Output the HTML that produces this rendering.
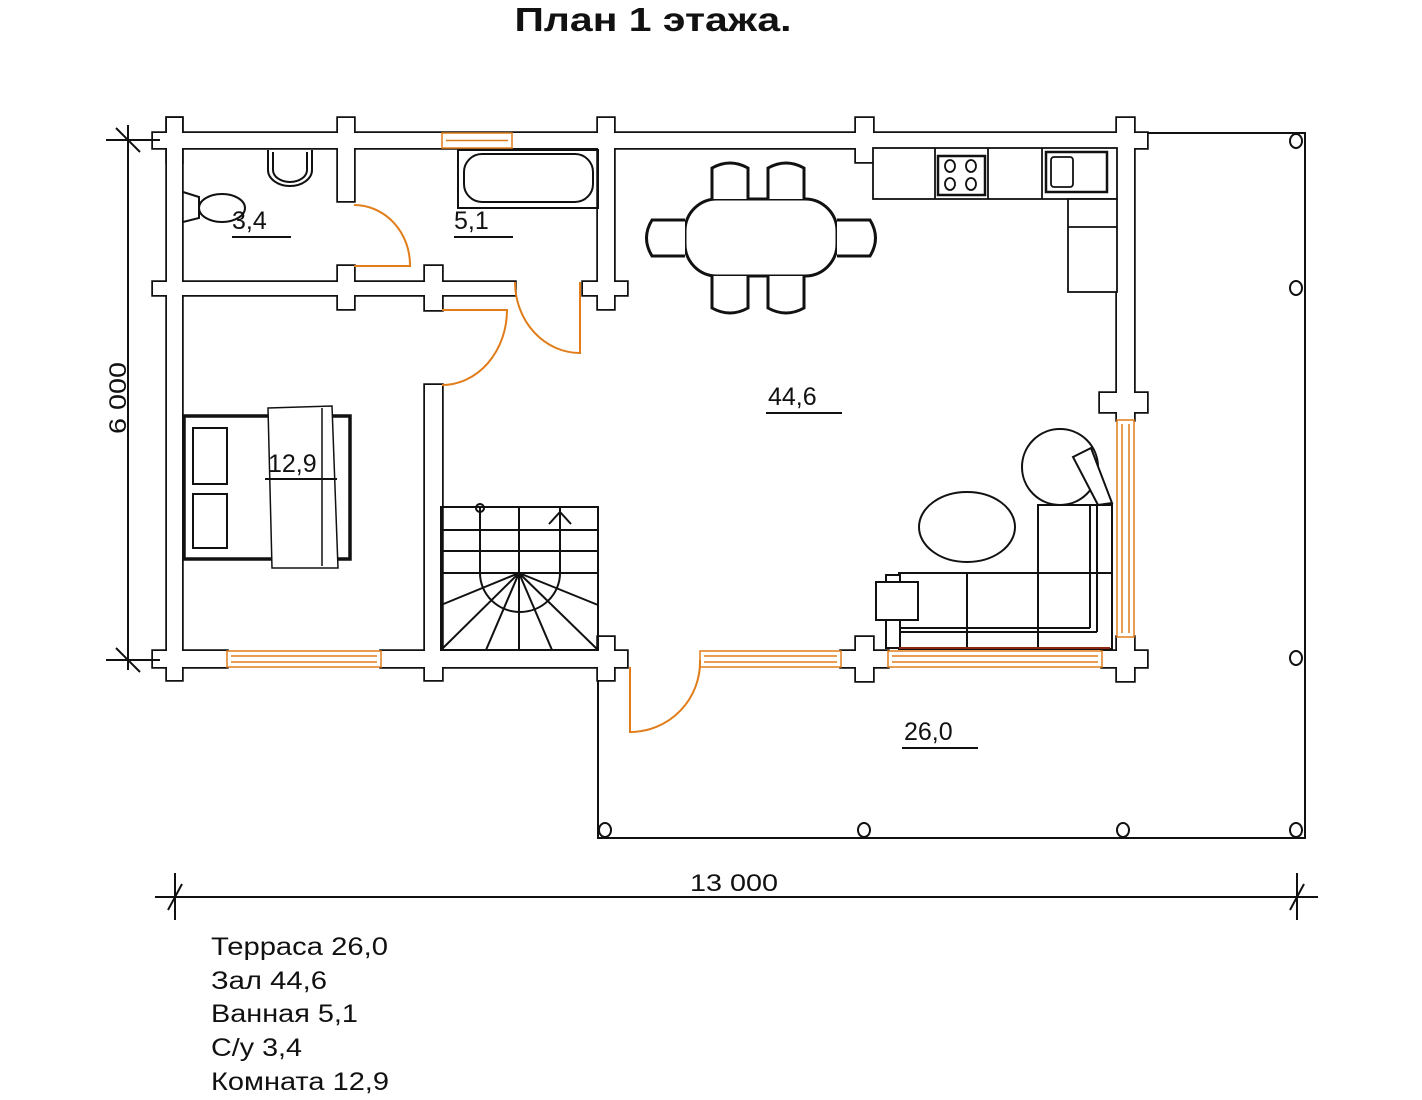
<!DOCTYPE html>
<html><head><meta charset="utf-8"><style>
html,body{margin:0;padding:0;background:#fff;}
svg{display:block;}
text{font-family:"Liberation Sans",sans-serif;fill:#111;}
</style></head><body>
<svg width="1422" height="1100" viewBox="0 0 1422 1100" xmlns="http://www.w3.org/2000/svg">
<defs>
<g id="walls">
  <rect x="153" y="133" width="994" height="15"/>
  <rect x="167" y="118" width="15" height="44"/>
  <rect x="338" y="118" width="16" height="83"/>
  <rect x="598" y="118" width="16" height="191"/>
  <rect x="856" y="118" width="17" height="44"/>
  <rect x="1117" y="118" width="17" height="302"/>
  <rect x="167" y="118" width="15" height="562"/>
  <rect x="153" y="282" width="362" height="13"/>
  <rect x="338" y="266" width="16" height="43"/>
  <rect x="425" y="266" width="17" height="44"/>
  <rect x="583" y="282" width="44" height="13"/>
  <rect x="425" y="385" width="17" height="295"/>
  <rect x="1100" y="393" width="47" height="19"/>
  <rect x="153" y="651" width="74" height="16"/>
  <rect x="381" y="651" width="246" height="16"/>
  <rect x="598" y="637" width="16" height="43"/>
  <rect x="841" y="651" width="47" height="16"/>
  <rect x="856" y="637" width="17" height="44"/>
  <rect x="1102" y="651" width="45" height="16"/>
  <rect x="1117" y="637" width="17" height="44"/>
</g>
</defs>
<text x="653" y="31" text-anchor="middle" font-size="33" font-weight="bold" textLength="277" lengthAdjust="spacingAndGlyphs">План 1 этажа.</text>

<polyline points="1147,133 1305,133 1305,838 598,838 598,667" fill="none" stroke="#111" stroke-width="2"/>
<g fill="#fff" stroke="#111" stroke-width="2">
<ellipse cx="1296" cy="141" rx="6" ry="7"/><ellipse cx="1296" cy="288" rx="6" ry="7"/>
<ellipse cx="1296" cy="658" rx="6" ry="7"/><ellipse cx="1296" cy="830" rx="6" ry="7"/>
<ellipse cx="1123" cy="830" rx="6" ry="7"/><ellipse cx="864" cy="830" rx="6" ry="7"/>
<ellipse cx="605" cy="830" rx="6" ry="7"/>
</g>

<use href="#walls" fill="none" stroke="#111" stroke-width="3.5"/>
<use href="#walls" fill="#fff" stroke="none"/>

<g fill="#fff" stroke="#e07d1a" stroke-width="1.5">
<rect x="442" y="133" width="70" height="15"/><line x1="446" y1="140.5" x2="508" y2="140.5"/>
<rect x="227" y="651" width="154" height="16"/><line x1="231" y1="656" x2="377" y2="656"/><line x1="231" y1="662" x2="377" y2="662"/>
<rect x="700" y="651" width="141" height="16"/><line x1="704" y1="656" x2="837" y2="656"/><line x1="704" y1="662" x2="837" y2="662"/>
<rect x="888" y="651" width="214" height="16"/><line x1="892" y1="656" x2="1098" y2="656"/><line x1="892" y1="662" x2="1098" y2="662"/>
<rect x="1117" y="420" width="17" height="217"/><line x1="1122" y1="424" x2="1122" y2="633"/><line x1="1129" y1="424" x2="1129" y2="633"/>
</g>

<g fill="none" stroke="#e07d1a" stroke-width="2">
<path d="M354,266 L410,266 A56,60 0 0 0 354,205"/>
<path d="M580,282 L580,353 A65,71 0 0 1 515,282"/>
<path d="M442,310 L507,310 A65,75 0 0 1 442,385"/>
<path d="M630,667 L630,732 A70,70 0 0 0 700,660"/>
</g>

<g stroke="#111" stroke-width="2" fill="none">
<line x1="128" y1="125" x2="128" y2="670"/>
<line x1="106" y1="140" x2="160" y2="140"/>
<line x1="106" y1="660" x2="160" y2="660"/>
<line x1="116" y1="128" x2="140" y2="152"/>
<line x1="116" y1="648" x2="140" y2="672"/>
<line x1="155" y1="897" x2="1318" y2="897"/>
<line x1="175" y1="873" x2="175" y2="920"/>
<line x1="1297" y1="873" x2="1297" y2="920"/>
<line x1="168" y1="910" x2="182" y2="884"/>
<line x1="1290" y1="910" x2="1304" y2="884"/>
</g>
<text x="0" y="0" font-size="24" text-anchor="middle" transform="translate(126,398) rotate(-90)" textLength="72" lengthAdjust="spacingAndGlyphs">6 000</text>
<text x="690" y="891" font-size="24" textLength="88" lengthAdjust="spacingAndGlyphs">13 000</text>

<g fill="none" stroke="#111" stroke-width="2">
<path d="M268,150 L268,170 A22,16 0 0 0 312,170 L312,150"/>
<path d="M273,152 L273,170 A17,12 0 0 0 307,170 L307,152"/>
<path d="M183,192 L199,197 L199,218 L183,222"/>
<ellipse cx="222" cy="208" rx="23" ry="14"/>
<rect x="458" y="150" width="140" height="58"/>
<rect x="464" y="154" width="129" height="48" rx="18"/>
</g>

<g fill="#fff" stroke="#111" stroke-width="3">
<rect x="685" y="199" width="152" height="77" rx="32"/>
<path d="M712,199 L712,168 Q730,158 748,168 L748,199"/>
<path d="M768,199 L768,168 Q786,158 804,168 L804,199"/>
<path d="M712,276 L712,308 Q730,318 748,308 L748,276"/>
<path d="M768,276 L768,308 Q786,318 804,308 L804,276"/>
<path d="M685,220 L652,220 Q641,238 652,256 L685,256"/>
<path d="M837,220 L870,220 Q881,238 870,256 L837,256"/>
</g>

<g fill="#fff" stroke="#111" stroke-width="1.8">
<rect x="873" y="148" width="244" height="51"/>
<line x1="935" y1="148" x2="935" y2="199"/><line x1="988" y1="148" x2="988" y2="199"/><line x1="1042" y1="148" x2="1042" y2="199"/>
<rect x="938" y="156" width="47" height="39" stroke-width="2.5"/>
<ellipse cx="950" cy="166" rx="5" ry="6"/><ellipse cx="971" cy="166" rx="5" ry="6"/>
<ellipse cx="950" cy="184" rx="5" ry="6"/><ellipse cx="971" cy="184" rx="5" ry="6"/>
<rect x="1046" y="152" width="61" height="40" stroke-width="2.5"/>
<rect x="1051" y="157" width="22" height="30" rx="3"/>
<rect x="1068" y="199" width="49" height="93"/>
<line x1="1068" y1="227" x2="1117" y2="227"/>
</g>

<g fill="#fff" stroke="#111">
<rect x="184" y="416" width="166" height="143" stroke-width="3.5"/>
<rect x="193" y="428" width="34" height="56" stroke-width="2"/>
<rect x="193" y="494" width="34" height="54" stroke-width="2"/>
<path d="M268,408 L332,406 L338,568 L272,568 Z" stroke-width="1.5"/>
<line x1="322" y1="408" x2="322" y2="566" stroke-width="1.5"/>
</g>

<g fill="none" stroke="#111" stroke-width="2">
<rect x="441" y="507" width="157" height="143"/>
<line x1="441" y1="530" x2="598" y2="530"/><line x1="441" y1="551" x2="598" y2="551"/><line x1="441" y1="573" x2="598" y2="573"/>
<line x1="480" y1="507" x2="480" y2="573"/><line x1="519" y1="507" x2="519" y2="650"/><line x1="560" y1="507" x2="560" y2="573"/>
<path d="M480,573 A39,38 0 0 0 560,573"/>
<line x1="519" y1="573" x2="441" y2="605"/><line x1="519" y1="573" x2="441" y2="650"/>
<line x1="519" y1="573" x2="486" y2="650"/><line x1="519" y1="573" x2="552" y2="650"/>
<line x1="519" y1="573" x2="598" y2="650"/><line x1="519" y1="573" x2="598" y2="605"/>
<path d="M549,524 L560,512 L571,524"/>
<circle cx="480" cy="508" r="4"/>
</g>

<g fill="none" stroke="#111" stroke-width="2">
<circle cx="1060" cy="467" r="38" fill="#fff"/>
<ellipse cx="967" cy="527" rx="48" ry="35"/>
<path d="M1073,457 L1091,448 L1112,503 L1098,505 Z" fill="#fff"/>
<rect x="1038" y="505" width="74" height="68" fill="#fff"/>
<rect x="899" y="573" width="213" height="76" fill="#fff"/>
<line x1="1038" y1="505" x2="1038" y2="649"/>
<line x1="967" y1="573" x2="967" y2="649"/>
<line x1="1090" y1="505" x2="1090" y2="628"/><line x1="1097" y1="505" x2="1097" y2="632"/>
<line x1="899" y1="628" x2="1090" y2="628"/><line x1="899" y1="632" x2="1097" y2="632"/>
<rect x="886" y="575" width="14" height="73" fill="#fff"/>
<rect x="876" y="582" width="42" height="38" fill="#fff"/>
</g>
<line x1="899" y1="648" x2="1110" y2="648" stroke="#8b2a10" stroke-width="2"/>

<g font-size="25">
<text x="232" y="229">3,4</text>
<text x="454" y="229">5,1</text>
<text x="768" y="405">44,6</text>
<text x="268" y="472">12,9</text>
<text x="904" y="740">26,0</text>
</g>
<g stroke="#111" stroke-width="2">
<line x1="232" y1="237" x2="291" y2="237"/>
<line x1="454" y1="237" x2="513" y2="237"/>
<line x1="766" y1="413" x2="842" y2="413"/>
<line x1="265" y1="479" x2="337" y2="479"/>
<line x1="902" y1="748" x2="978" y2="748"/>
</g>

<g font-size="25" lengthAdjust="spacingAndGlyphs">
<text x="211" y="955" textLength="177" lengthAdjust="spacingAndGlyphs">Терраса 26,0</text>
<text x="211" y="989" textLength="116" lengthAdjust="spacingAndGlyphs">Зал 44,6</text>
<text x="211" y="1022" textLength="147" lengthAdjust="spacingAndGlyphs">Ванная 5,1</text>
<text x="211" y="1056" textLength="91" lengthAdjust="spacingAndGlyphs">С/у 3,4</text>
<text x="211" y="1090" textLength="178" lengthAdjust="spacingAndGlyphs">Комната 12,9</text>
</g>
</svg>
</body></html>
